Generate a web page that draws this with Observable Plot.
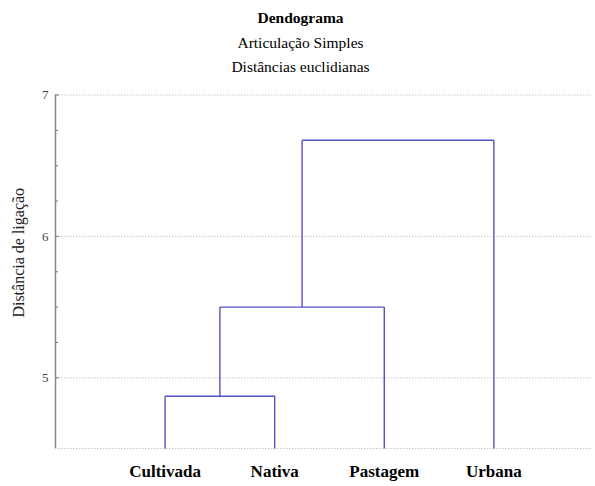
<!DOCTYPE html>
<html><head><meta charset="utf-8">
<script src="https://cdn.jsdelivr.net/npm/d3@7"></script>
<script src="https://cdn.jsdelivr.net/npm/@observablehq/plot@0.6"></script>
<style>
body{margin:0;background:#fff;font-family:"Liberation Serif","Times New Roman",serif;color:#000;}
#title{width:595px;height:88px;box-sizing:border-box;padding-top:6px;padding-left:6px;text-align:center;}
#title div{line-height:24.5px;font-size:15.5px;}
#title .t1{font-weight:bold;font-size:15.5px;}
</style></head>
<body>
<div id="title"><div class="t1">Dendograma</div><div>Articulação Simples</div><div>Distâncias euclidianas</div></div>
<div id="chart"></div>
<script>
// Data
const leaves = ["Cultivada", "Nativa", "Pastagem", "Urbana"];
const mergeNames = ["C1", "C2", "C3"];
const mergeLeft = ["Cultivada", "C1", "C2"];
const mergeRight = ["Nativa", "Pastagem", "Urbana"];
const mergeHeights = [4.87, 5.50, 6.68];
const baseLevel = 4.5;
const yTicks = [5, 6, 7];
const yMinorTicks = [5.25, 5.5, 5.75, 6.25, 6.5, 6.75];
const gridValues = [4.5, 5, 6, 7];
const yLabel = "Distância de ligação";

// Dendrogram layout
const pos = {}, hgt = {};
leaves.forEach((l, i) => { pos[l] = i + 1; hgt[l] = baseLevel; });
const segs = [];
mergeNames.forEach((m, i) => {
  const l = mergeLeft[i], r = mergeRight[i], h = mergeHeights[i];
  segs.push({x1: pos[l], y1: hgt[l], x2: pos[l], y2: h});
  segs.push({x1: pos[r], y1: hgt[r], x2: pos[r], y2: h});
  segs.push({x1: pos[l], y1: h, x2: pos[r], y2: h});
  pos[m] = (pos[l] + pos[r]) / 2; hgt[m] = h;
});

const chart = Plot.plot({
  width: 595, height: 398,
  marginTop: 6.5, marginBottom: 38, marginLeft: 55, marginRight: 3,
  x: {domain: [0, 4.9], axis: null},
  y: {domain: [4.5, 7], axis: null},
  style: {fontFamily: "'Liberation Serif', 'Times New Roman', serif", background: "white"},
  marks: [
    Plot.gridY(gridValues, {stroke: "#c8c8c8", strokeOpacity: 1, strokeDasharray: "1.5,1.5"}),
    Plot.axisY(yTicks, {tickSize: 0, tickPadding: 7, tickFormat: d => String(d), fontSize: 13, fill: "#444", label: null}),
    Plot.axisY(yTicks, {tickSize: -4, tickFormat: () => "", stroke: "#777", label: null}),
    Plot.axisY(yMinorTicks, {tickSize: -3, tickFormat: () => "", stroke: "#777", label: null}),
    Plot.ruleX([0], {stroke: "#888", strokeWidth: 1.5}),
    Plot.axisX([1, 2, 3, 4], {tickSize: 0, tickPadding: 16, tickFormat: d => leaves[d - 1], fontSize: 17, fontWeight: "bold", fill: "#000", label: null}),
    Plot.link(segs, {x1: "x1", y1: "y1", x2: "x2", y2: "y2", stroke: "#5252c2", strokeWidth: 1.4}),
    Plot.text([yLabel], {frameAnchor: "left", textAnchor: "middle", rotate: -90, dx: -37, dy: -19, fontSize: 16, fill: "#222"})
  ]
});
document.getElementById("chart").append(chart);
</script>
</body></html>
